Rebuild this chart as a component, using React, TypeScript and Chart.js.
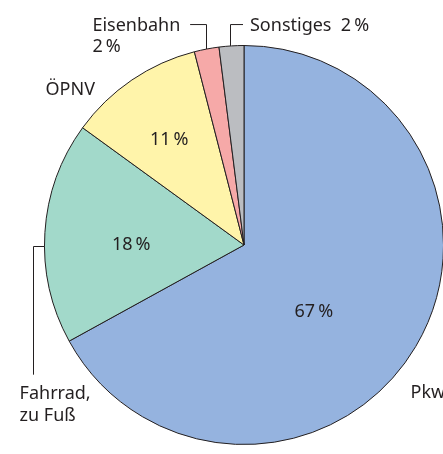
import React, { useEffect, useRef } from "react";
import { Chart, registerables } from "chart.js";

Chart.register(...registerables);

const categories = ["Pkw", "Fahrrad, zu Fuß", "ÖPNV", "Eisenbahn", "Sonstiges"];
const shares = [67, 18, 11, 2, 2];
const colors = ["#95B3DF", "#A2D9CA", "#FFF4AA", "#F6A9A8", "#BBBDC1"];
const inside = [true, true, true, false, false];

const FONT = '18px "Noto Sans", "Open Sans", sans-serif';
const TEXT = "#231F20";
const pct = (v: number) => `${v}\u2009%`;

// Label placement in units of pie radius, relative to the centre
const insidePos: Record<number, [number, number]> = {
  0: [0.35, 0.33],
  1: [-0.565, -0.005],
  2: [-0.375, -0.53],
};

const labelPlugin = {
  id: "customLabels",
  afterDraw(chart: any) {
    const ctx = chart.ctx;
    const meta = chart.getDatasetMeta(0);
    const arc0 = meta.data[0];
    const cx = arc0.x;
    const cy = arc0.y;
    const r = arc0.outerRadius;
    const P = (u: number, v: number): [number, number] => [cx + u * r, cy + v * r];
    const edge = (i: number) => {
      const a = meta.data[i];
      const m = (a.startAngle + a.endAngle) / 2;
      return [cx + Math.cos(m) * r, cy + Math.sin(m) * r];
    };
    ctx.save();
    ctx.font = FONT;
    ctx.fillStyle = TEXT;
    ctx.textBaseline = "alphabetic";
    // inside percentage labels
    shares.forEach((v, i) => {
      if (!inside[i]) return;
      const [x, y] = P(insidePos[i][0], insidePos[i][1]);
      ctx.textAlign = "center";
      ctx.fillText(pct(v), x, y + 6);
    });
    // outside labels
    ctx.textAlign = "left";
    // ÖPNV
    {
      const [x, y] = P(-0.995, -0.75);
      ctx.fillText(categories[2], x, y);
    }
    // Pkw
    {
      const [x, y] = P(0.835, 0.765);
      ctx.fillText(categories[0], x, y);
    }
    // Fahrrad, zu Fuß
    {
      const [x, y] = P(-1.125, 0.77);
      ctx.fillText("Fahrrad,", x, y);
      ctx.fillText("zu Fuß", x, y + 22);
    }
    // Eisenbahn
    {
      const [x, y] = P(-0.76, -1.075);
      ctx.fillText(categories[3], x, y);
      ctx.fillText(pct(shares[3]), x, y + 21);
    }
    // Sonstiges
    {
      const [x, y] = P(0.03, -1.075);
      ctx.fillText(`${categories[4]}  ${pct(shares[4])}`, x, y);
    }
    // leader lines
    ctx.strokeStyle = "#231F20";
    ctx.lineWidth = 1;
    const line = (pts: [number, number][]) => {
      ctx.beginPath();
      pts.forEach(([x, y], k) => (k ? ctx.lineTo(x, y) : ctx.moveTo(x, y)));
      ctx.stroke();
    };
    const yTop = cy - 1.105 * r;
    {
      const [ex, ey] = edge(3);
      const x = Math.round(ex) - 0.5;
      line([[x, ey], [x, yTop], [cx - 0.27 * r, yTop]]);
    }
    {
      const [ex, ey] = edge(4);
      const x = Math.round(ex) - 0.5;
      line([[x, ey], [x, yTop], [cx - 0.005 * r, yTop]]);
    }
    {
      const yL = Math.round(cy + 0.005 * r) + 0.5;
      const xL = Math.round(cx - 1.06 * r) + 0.5;
      line([[cx - r, yL], [xL, yL], [xL, cy + 0.65 * r]]);
    }
    ctx.restore();
  },
};

export default function App() {
  const ref = useRef<HTMLCanvasElement>(null);
  useEffect(() => {
    if (!ref.current) return;
    const chart = new Chart(ref.current, {
      type: "pie",
      data: {
        labels: categories,
        datasets: [
          {
            data: shares,
            backgroundColor: colors,
            borderColor: "#231F20",
            borderWidth: 1,
          },
        ],
      },
      options: {
        responsive: false,
        animation: false,
        layout: { padding: { left: 44, top: 45, right: 56, bottom: 9 } },
        plugins: {
          legend: { display: false },
          tooltip: { enabled: false },
        },
      },
      plugins: [labelPlugin],
    });
    return () => chart.destroy();
  }, []);
  return (
    <div
      style={{
        position: "absolute",
        left: 0,
        top: 0,
        width: 443,
        height: 454,
        overflow: "hidden",
        background: "#fff",
      }}
    >
      <canvas ref={ref} width={500} height={454} style={{ display: "block" }} />
    </div>
  );
}
